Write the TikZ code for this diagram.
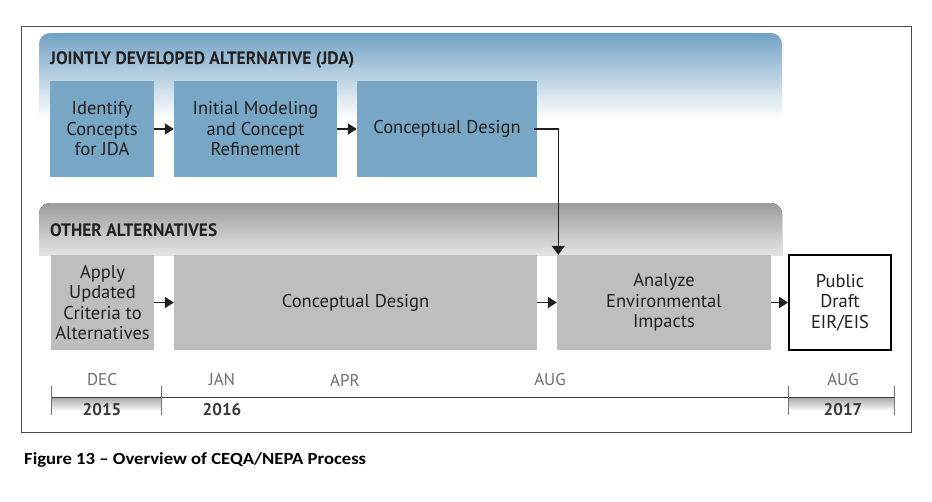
\documentclass[tikz,border=0pt]{standalone}
\usepackage{fontspec}
\setmainfont{PT Sans}
\newfontfamily\capfont{Carlito}
\usetikzlibrary{arrows.meta,calc}
\definecolor{jdablue}{HTML}{78A7C6}
\definecolor{bandblue}{HTML}{72A2C4}
\definecolor{boxgray}{HTML}{BEBEBE}
\definecolor{bandgray}{HTML}{9C9C9C}
\definecolor{bandgraylow}{HTML}{E4E4E4}
\definecolor{txt}{HTML}{231F20}
\definecolor{monthgray}{HTML}{6D6E71}
\definecolor{yeargray}{HTML}{3A3A3C}
\pgfdeclareverticalshading{bluefade}{100bp}{color(0bp)=(white); color(38bp)=(white); color(75bp)=(bandblue); color(100bp)=(bandblue)}
\begin{document}
\begin{tikzpicture}[x=1pt,y=-1pt,
  boxtext/.style={align=center, text=txt, font=\fontsize{18.5}{20.5}\selectfont, inner sep=0pt},
  bluebox/.style={boxtext, fill=jdablue, draw=none},
  graybox/.style={boxtext, fill=boxgray, draw=none},
  whitebox/.style={boxtext, fill=white, draw=black, line width=1.8pt},
  arr/.style={-{Triangle[length=9pt,width=11pt]}, line width=1.8pt, draw=txt},
  downarr/.style={-{Triangle[length=9pt,width=13pt]}, line width=1.3pt, draw=txt},
  month/.style={text=monthgray, font=\fontsize{17}{17}\selectfont, inner sep=0pt},
  year/.style={text=yeargray, font=\bfseries\fontsize{17}{17}\selectfont, inner sep=0pt},
  tl/.style={draw=yeargray, line width=0.9pt},
  tick/.style={draw=black!55, line width=0.9pt},
  frameline/.style={draw=black!70, line width=0.8pt}
]
\useasboundingbox[fill=white] (0,0) rectangle (932,501);

% outer frame
\draw[frameline] (21,26) rectangle (911,432);

% bands
\shade[shading=bluefade] (39,150) [rounded corners=11] -- (39,33) -- (782,33) [sharp corners] -- (782,150) -- cycle;
\fill[top color=bandgray, bottom color=bandgraylow] (39,255) [rounded corners=11] -- (39,203) -- (782,203) [sharp corners] -- (782,255) -- cycle;

% titles
\node[anchor=west, inner sep=0pt, text=txt] (jdatitle) at (50,60)
  {\resizebox{304pt}{\height}{\bfseries\fontsize{18}{18}\selectfont JOINTLY DEVELOPED ALTERNATIVE (JDA)}};
\node[anchor=west, inner sep=0pt, text=txt] (othtitle) at (50,230)
  {\resizebox{167pt}{\height}{\bfseries\fontsize{18}{18}\selectfont OTHER ALTERNATIVES}};

% JDA row
\node[bluebox, minimum width=104, minimum height=96] (idc) at (102,129) {Identify\\Concepts\\for JDA};
\node[bluebox, minimum width=163, minimum height=96] (imc) at (255.5,129) {Initial Modeling\\and Concept\\Refinement};
\node[bluebox, minimum width=180, minimum height=96] (jcd) at (447,129) {Conceptual Design};

% other alternatives row
\node[graybox, minimum width=103, minimum height=95] (auc) at (102.5,302.5) {Apply\\Updated\\Criteria to\\Alternatives};
\node[graybox, minimum width=363, minimum height=95] (ocd) at (355.5,302.5) {Conceptual Design};
\node[graybox, minimum width=214, minimum height=95] (aei) at (664,302.5) {Analyze\\Environmental\\Impacts};
\node[whitebox, minimum width=102, minimum height=95] (pde) at (840,302.5) {Public\\Draft\\EIR/EIS};

% connectors
\draw[arr] (idc.east) -- (imc.west);
\draw[arr] (imc.east) -- (jcd.west);
\draw[downarr] ($(jcd.east)+(-3,0)$) -| ($(aei.north west)+(1.5,0)$);
\draw[arr] (auc.east) -- (ocd.west);
\draw[arr] (ocd.east) -- (aei.west);
\draw[arr] (aei.east) -- (pde.west);

% timeline
\shade[top color=black!35, bottom color=white] (51,397) rectangle (161,411);
\shade[top color=black!35, bottom color=white] (788,397) rectangle (894,411);
\draw[tl] (51,397) -- (894,397);
\draw[tick] (51,386) -- (51,415);
\draw[tick] (161,386) -- (161,415);
\draw[tick] (788,386) -- (788,415);
\draw[tick] (894,386) -- (894,415);

\node[month] (mdec) at (102,380) {DEC};
\node[month] (mjan) at (222,380) {JAN};
\node[month] (mapr) at (345,380) {APR};
\node[month] (maug1) at (550,380) {AUG};
\node[month] (maug2) at (843,380) {AUG};

\node[year] (y2015) at (102,410) {2015};
\node[year] (y2016) at (222,410) {2016};
\node[year] (y2017) at (843,410) {2017};

% caption
\node[anchor=west, inner sep=0pt, text=black] (caption) at (24,460)
  {\resizebox{342pt}{\height}{\capfont\bfseries\fontsize{17}{17}\selectfont Figure 13 – Overview of CEQA/NEPA Process}};
\end{tikzpicture}
\end{document}
